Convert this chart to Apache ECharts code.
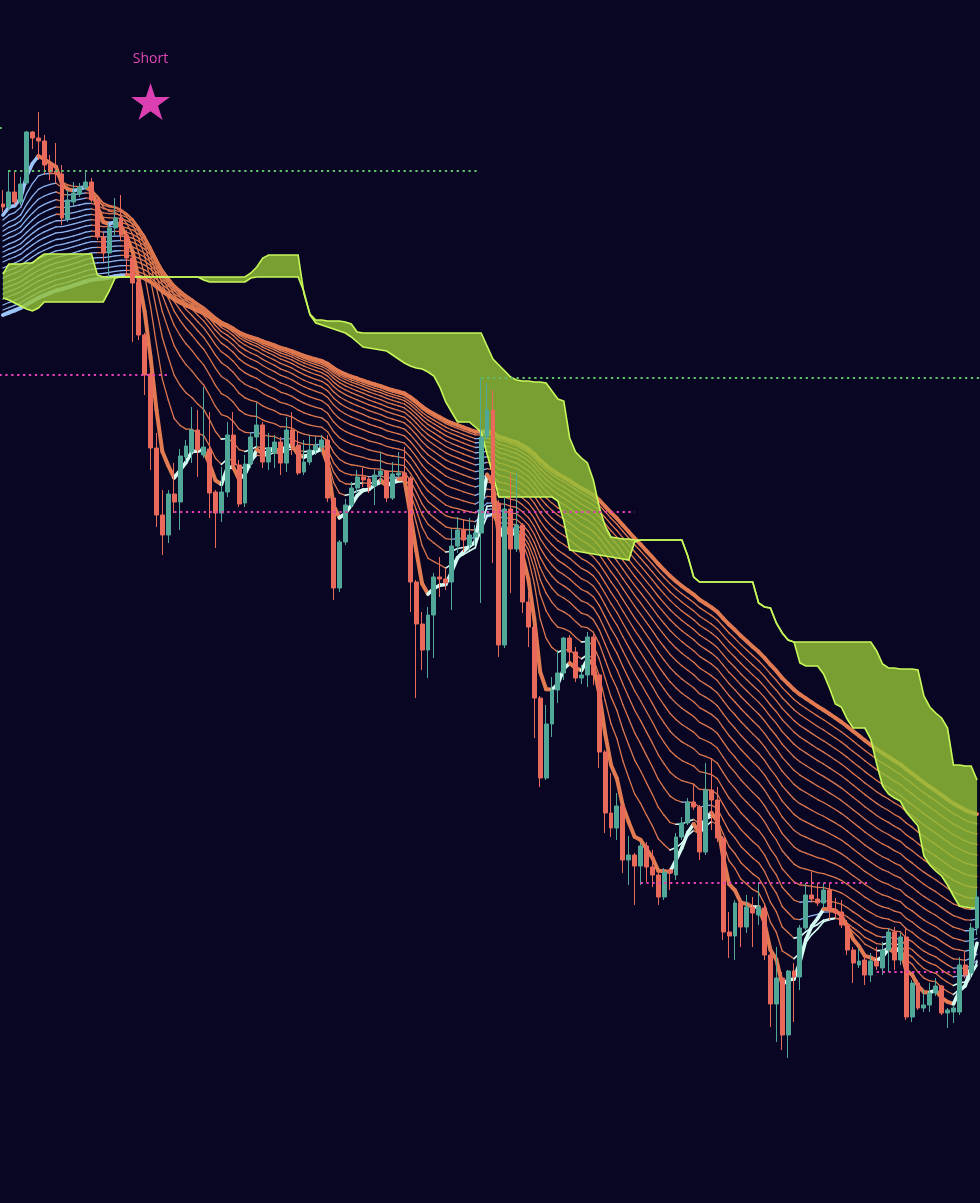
<!DOCTYPE html>
<html><head><meta charset="utf-8">
<script src="https://cdn.jsdelivr.net/npm/echarts@6/dist/echarts.min.js"></script>
<style>html,body{margin:0;padding:0;background:#080623;overflow:hidden}#c{width:980px;height:1203px}</style>
</head><body><div id="c"></div>
<script>
// ---- candle data (price units) ----
const opens = [99.9,99.6,101.1,100.1,102.0,107.1,106.5,106.2,103.8,103.2,
102.9,98.4,100.1,100.9,101.5,102.1,100.3,96.6,95.0,97.5,
98.5,96.8,94.5,92.1,86.8,82.9,75.5,68.8,66.8,70.9,
70.1,74.6,75.1,77.3,74.8,75.4,71.1,69.0,71.1,76.8,
73.8,70.0,73.9,76.6,77.8,74.1,75.0,76.1,74.0,77.3,
75.8,73.1,74.1,75.3,75.6,76.3,70.5,61.5,66.1,69.8,
71.5,72.6,72.4,71.7,72.8,73.2,70.5,72.8,73.0,72.5,
62.1,57.9,55.3,58.8,62.6,62.4,62.1,65.7,67.3,65.8,
66.6,67.0,76.6,79.3,70.0,55.8,69.4,65.4,67.8,60.1,
57.6,50.5,42.5,47.9,51.3,53.0,56.5,55.1,52.5,52.8,
56.6,52.8,45.1,39.0,37.5,39.7,34.3,34.8,33.7,35.7,
33.6,32.8,30.6,33.3,32.8,36.6,38.0,40.1,39.6,35.1,
41.3,40.3,36.5,27.1,26.7,30.0,27.6,29.6,28.8,29.5,
24.8,19.9,22.5,16.8,23.2,22.6,27.5,30.8,30.4,30.0,
31.3,29.3,29.1,27.8,25.3,23.8,24.3,22.8,24.2,23.5,
25.3,27.1,24.3,26.6,18.6,22.0,19.5,19.8,21.0,21.7,
19.0,19.1,19.1,23.8,23.0,27.5];
const closes = [99.6,101.1,100.1,101.9,107.1,106.5,106.2,103.8,103.1,102.9,
98.5,100.3,101.0,101.6,102.1,100.3,96.6,95.0,97.5,98.5,
96.8,94.5,92.0,86.8,82.8,75.5,68.8,66.8,70.9,70.1,
74.7,75.7,77.3,75.3,75.6,71.0,69.0,71.1,76.8,73.8,
69.9,73.9,76.6,77.8,74.1,75.5,76.1,74.0,77.3,75.8,
73.0,74.1,75.3,75.8,76.3,70.5,61.5,66.1,69.8,71.5,
72.6,72.3,71.6,72.8,73.2,70.5,72.9,73.0,72.3,62.1,
57.9,55.3,58.8,62.6,62.4,62.0,65.7,67.3,66.3,66.8,
67.0,76.6,79.3,70.0,55.8,69.4,65.4,67.8,60.1,57.6,
50.5,42.5,47.9,51.3,53.0,56.5,55.1,52.5,52.8,56.6,
52.8,45.1,39.0,37.5,39.7,34.3,34.8,33.7,35.7,33.6,
32.8,30.6,33.1,33.0,36.6,38.0,40.1,39.6,35.1,41.3,
40.3,36.5,27.1,26.7,30.0,27.6,29.6,29.0,29.6,24.8,
19.9,22.5,16.8,23.2,22.6,27.5,30.8,30.4,30.0,31.3,
29.3,29.0,27.8,25.3,24.0,24.2,22.8,24.2,23.7,25.3,
27.1,24.3,26.6,18.6,22.0,19.5,19.8,21.0,21.7,19.0,
19.3,19.5,23.8,22.8,27.5,30.6];
const lows = [99.1,99.3,99.8,99.8,101.8,105.4,104.3,102.8,102.3,102.0,
97.8,98.1,99.6,100.6,101.3,100.1,96.3,94.1,92.6,96.8,
96.3,92.8,86.1,86.3,80.8,73.3,67.6,64.8,66.0,69.0,
67.3,74.1,74.0,72.6,74.5,68.5,65.5,68.1,70.6,73.3,
69.6,69.6,73.5,75.5,73.5,73.3,73.5,72.8,73.1,74.8,
72.8,72.8,73.8,74.8,75.1,70.1,60.3,61.1,65.8,69.5,
71.0,71.6,71.0,69.8,72.0,70.1,70.3,72.5,72.1,59.1,
50.5,53.3,52.5,54.5,60.6,61.3,59.3,65.0,65.1,65.3,
65.8,60.0,76.3,64.0,54.6,55.5,61.0,65.1,59.0,55.6,
46.5,41.6,42.3,46.6,50.0,52.3,54.0,52.1,51.9,51.6,
51.8,43.5,37.0,36.6,36.3,33.0,31.8,29.8,31.8,32.1,
31.6,29.8,30.3,31.3,32.3,36.3,37.8,39.3,34.3,34.8,
37.3,36.1,26.3,24.5,24.3,25.6,27.0,25.6,27.8,24.3,
17.6,16.1,15.3,14.5,18.1,21.3,27.3,30.1,29.7,29.5,
28.3,28.5,27.5,24.8,22.0,23.5,21.8,22.1,23.3,22.8,
23.1,23.3,23.8,18.3,18.1,19.3,19.1,19.1,20.7,18.8,
17.5,18.0,18.8,22.5,22.5,26.8];
const highs = [101.3,103.3,103.1,102.6,107.2,107.2,109.1,106.8,104.8,106.0,
103.8,101.3,102.1,102.0,103.3,102.5,100.6,97.0,98.0,100.5,
100.8,97.3,94.8,92.5,87.0,83.1,77.0,71.3,71.3,74.0,
75.4,76.3,79.6,79.3,81.6,79.1,71.3,73.6,78.1,79.1,
74.3,74.8,77.1,80.0,78.1,77.0,76.8,76.6,78.6,79.1,
77.1,76.3,76.8,76.6,76.8,76.8,70.7,66.3,70.4,72.1,
73.3,73.5,72.6,73.3,75.1,73.3,74.1,75.1,75.6,72.7,
62.3,59.1,59.6,63.0,64.6,63.5,67.4,68.6,68.3,68.5,
67.8,82.5,82.0,81.3,70.3,70.6,72.9,73.0,68.0,61.1,
57.8,50.7,49.8,52.6,55.3,56.6,56.8,55.6,53.8,57.1,
56.9,53.0,45.3,43.0,41.0,39.9,36.7,35.0,36.0,36.1,
35.3,33.0,33.5,33.5,37.0,38.6,40.5,41.8,39.8,44.0,
44.5,41.6,36.7,29.1,30.3,30.3,30.8,30.6,32.1,29.8,
25.6,25.6,23.1,23.3,24.0,27.8,32.0,33.1,32.0,32.0,
32.0,30.5,30.3,28.3,25.6,25.5,24.6,25.0,25.6,26.1,
27.5,27.6,27.0,27.6,22.3,22.3,21.3,22.0,22.5,21.8,
19.5,19.8,24.6,25.1,28.0,31.3];

// ---- Ichimoku cloud edges (upper / lower), one value per bar ----
const spanTop = [92.9,93.9,93.9,93.9,94.0,94.0,94.5,94.9,94.9,94.9,
94.9,94.9,94.9,94.9,94.9,94.9,92.8,92.6,92.6,92.6,
92.6,92.6,92.6,92.6,92.6,92.6,92.6,92.6,92.6,92.6,
92.6,92.6,92.6,92.6,92.6,92.6,92.6,92.6,92.6,92.6,
92.6,92.6,93.0,93.6,94.5,94.8,94.8,94.8,94.8,94.8,
94.8,90.9,88.9,88.3,88.3,88.2,88.2,88.2,88.1,87.9,
87.1,87.0,87.0,87.0,87.0,87.0,87.0,87.0,87.0,87.0,
87.0,87.0,87.0,87.0,87.0,87.0,87.0,87.0,87.0,87.0,
87.0,87.0,85.7,84.4,83.8,83.2,82.6,82.3,82.2,82.2,
82.1,82.1,82.0,81.2,80.4,80.2,76.5,75.1,74.5,74.0,
72.3,69.6,67.7,66.6,66.5,66.4,66.4,66.3,66.3,66.3,
66.3,66.3,66.3,66.3,66.3,66.3,64.7,62.6,62.1,62.1,
62.1,62.1,62.1,62.1,62.1,62.1,62.1,62.1,60.0,59.6,
59.5,58.0,57.0,56.3,56.1,56.1,56.1,56.1,56.1,56.1,
56.1,56.1,56.1,56.1,56.1,56.1,56.1,56.1,55.2,53.9,
53.5,53.5,53.4,53.4,53.4,53.3,50.7,49.6,49.0,48.5,
47.5,43.8,43.8,43.7,43.7,42.3];
const spanBot = [90.5,90.3,90.0,89.7,89.4,89.2,89.5,90.1,90.1,90.1,
90.1,90.1,90.1,90.1,90.1,90.1,90.1,90.1,91.2,92.5,
92.6,92.6,92.6,92.6,92.6,92.6,92.6,92.6,92.6,92.6,
92.6,92.6,92.6,92.6,92.3,92.1,92.1,92.1,92.1,92.1,
92.1,92.1,92.5,92.6,92.6,92.6,92.6,92.6,92.6,92.6,
92.6,91.1,88.8,88.0,87.8,87.6,87.4,87.2,87.0,86.6,
86.1,85.6,85.5,85.4,85.3,85.2,84.8,84.4,84.0,83.7,
83.5,83.4,83.1,82.7,81.6,80.1,79.1,78.1,78.1,78.1,
77.6,77.1,74.9,72.8,70.6,70.6,70.6,70.6,70.6,70.6,
70.6,70.6,70.6,70.6,70.2,68.2,65.3,65.2,65.1,65.0,
64.9,64.8,64.7,64.6,64.5,64.4,64.3,66.1,66.3,66.3,
66.3,66.3,66.3,66.3,66.3,66.3,64.7,62.6,62.1,62.1,
62.1,62.1,62.1,62.1,62.1,62.1,62.1,62.1,60.0,59.6,
59.5,58.0,57.0,56.3,56.1,54.0,53.7,53.7,53.7,52.9,
51.5,49.9,49.6,48.4,47.5,47.5,47.5,46.4,43.9,41.7,
40.9,40.5,40.2,39.1,38.4,37.7,34.7,33.8,33.2,32.7,
31.8,30.7,29.7,29.6,29.5,29.5];

// ---- EMA ribbon: lengths and their values at the first bar ----
const emaLengths = [5,10,15,20,25,30,35,40,45,50,55,60,65,70,75,80,85,90,95,100];
const emaSeeds = [98.8,98.3,97.7,97.2,96.7,96.2,95.6,95.1,94.6,94.1,93.5,93.0,92.5,91.9,91.4,90.9,90.4,89.8,89.3,88.8];

// ---- horizontal levels ----
const levelValues = [107.5, 103.2, 82.8, 82.5, 69.1, 32.0, 23.1];
const levelFrom   = [-0.6, 0.9, -0.6, 81, 29, 108, 148];
const levelTo     = [0.2, 80.3, 28, 165.6, 107, 147, 162];
const levelKind   = ['up','up','down','up','down','down','down'];

// ---- signal ----
const signalIndex = 25, signalValue = 110.15, signalText = 'Short';

const N = closes.length;
const cats = closes.map((_, i) => i);
const candleData = closes.map((c, i) => [opens[i], c, lows[i], highs[i]]);

// EMA of the close series (the indicator drawn in the original)
const emas = emaLengths.map((L, k) => {
  const a = 2 / (L + 1), out = [emaSeeds[k]];
  for (let i = 1; i < N; i++) out.push(out[i - 1] + a * (closes[i] - out[i - 1]));
  return out;
});
const slowK = emaLengths.length - 1;
const segData = [], segStyle = [];
for (let k = slowK; k >= 0; k--) {
  for (let i = 1; i < N; i++) {
    const a = emas[k][i - 1], b = emas[k][i];
    const up = b > a;
    let color, w;
    if (!up) {
      color = (k === 0 || k === slowK) ? '#e27a52' : '#dc774f';
      w = (k === 0 || k === slowK) ? 4 : 1.3;
    } else if (k === slowK) { color = '#9cc3fa'; w = 4; }
    else if (k <= 2 && b < emas[slowK][i]) { color = '#d4fbf1'; w = k === 0 ? 3.6 : 1.6; }
    else { color = k === 0 ? '#9cc3fa' : '#8cb3ef'; w = k === 0 ? 3.6 : 1.3; }
    segData.push([i, a, b, k]);
    segStyle.push({ color, w });
  }
}

const series = [];
series.push({
  type: 'custom', xAxisIndex: 1, yAxisIndex: 0, z: 2, clip: true, silent: true,
  data: segData,
  renderItem: function (params, api) {
    const i = api.value(0);
    const p0 = api.coord([i - 1, api.value(1)]), p1 = api.coord([i, api.value(2)]);
    const s = segStyle[params.dataIndex];
    return { type: 'line', shape: { x1: p0[0], y1: p0[1], x2: p1[0], y2: p1[1] },
      style: { stroke: s.color, lineWidth: s.w, lineCap: 'round' } };
  }
});
series.push({
  type: 'custom', xAxisIndex: 1, yAxisIndex: 0, z: 3, clip: true, silent: true,
  data: [[0, 50]],
  renderItem: function (params, api) {
    const top = [], bot = [];
    for (let i = 0; i < spanTop.length; i++) { top.push(api.coord([i, spanTop[i]])); bot.push(api.coord([i, spanBot[i]])); }
    const poly = top.concat(bot.slice().reverse());
    return { type: 'group', children: [
      { type: 'polygon', shape: { points: poly }, style: { fill: 'rgba(147,193,54,0.82)' } },
      { type: 'polyline', shape: { points: top }, style: { stroke: '#c8f85a', lineWidth: 1.6, fill: null } },
      { type: 'polyline', shape: { points: bot }, style: { stroke: '#c8f85a', lineWidth: 1.6, fill: null } }
    ] };
  }
});
series.push({
  type: 'candlestick', xAxisIndex: 0, yAxisIndex: 0, z: 4, data: candleData, barWidth: 4.4,
  itemStyle: { color: '#52a898', color0: '#e9695b', borderColor: '#52a898', borderColor0: '#e9695b', borderWidth: 1 }
});
levelValues.forEach((v, j) => {
  series.push({
    type: 'line', xAxisIndex: 1, yAxisIndex: 0, z: 5, symbol: 'none', silent: true,
    data: [[levelFrom[j], v], [levelTo[j], v]],
    lineStyle: { color: levelKind[j] === 'up' ? '#5fbf6b' : '#e43fb6', width: 2.2, type: [2.3, 3.6] }
  });
});
series.push({
  type: 'scatter', xAxisIndex: 1, yAxisIndex: 0, z: 6, silent: true,
  symbol: 'path://M50 0 L61.2 34.5 L97.6 34.5 L68.2 55.9 L79.4 90.5 L50 69.1 L20.6 90.5 L31.8 55.9 L2.4 34.5 L38.8 34.5 Z',
  symbolSize: [39, 37],
  itemStyle: { color: '#dc3fb2', opacity: 1 },
  label: { show: true, position: 'top', distance: 17, formatter: signalText, color: '#e048b4', fontSize: 14, fontFamily: 'Open Sans' },
  data: [[signalIndex, signalValue]]
});

const chart = echarts.init(document.getElementById('c'), null, { renderer: 'canvas' });
chart.setOption({
  backgroundColor: '#080623',
  animation: false,
  grid: { left: -1.27, top: 0, width: 984.4, height: 1203 },
  xAxis: [
    { type: 'category', data: cats, boundaryGap: true, show: false },
    { type: 'value', min: -0.5, max: N - 0.5, show: false }
  ],
  yAxis: { type: 'value', min: 0, max: 120.3, show: false, splitLine: { show: false } },
  series: series
});
</script></body></html>
